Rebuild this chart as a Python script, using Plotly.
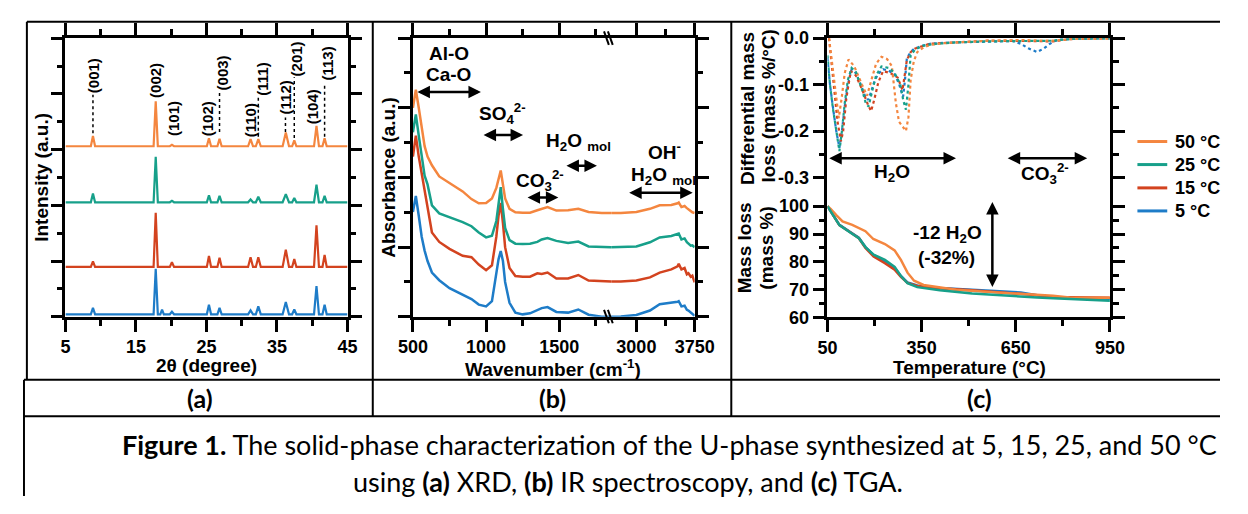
import plotly.graph_objects as go

# The page body keeps the browser's default 8 px margin, so the figure is sized to fit the
# 1248x514 window inside it; reference pixel positions are converted with this offset.
WIN_W, WIN_H, OFF = 1248, 514, 8
W, H = WIN_W - 2 * OFF, WIN_H - 2 * OFF
def X(px): return (px - OFF) / W
def Y(py): return 1 - (py - OFF) / H

ORANGE, TEAL, RED, BLUE = "#F4863F", "#17A08A", "#D3431F", "#1E7CC8"
FONT = "Liberation Sans, Arial, sans-serif"
CAPFONT = "Lato, Open Sans, sans-serif"

# ---------------- (a) XRD data ----------------
xrd_peaks = [8.9, 17.8, 18.7, 20.1, 25.35, 26.85, 31.25, 32.35, 36.25, 37.45, 40.6, 41.75]
xrd_halfw = [0.3, 0.3, 0.25, 0.3, 0.3, 0.3, 0.35, 0.35, 0.45, 0.3, 0.35, 0.3]
xrd_base = {"5": 0.09, "15": 1.79, "25": 4.11, "50": 6.12}
xrd_5C  = [0.32, 1.72, 0.26, 0.18, 0.43, 0.32, 0.23, 0.38, 0.53, 0.26, 1.10, 0.43]
xrd_15C = [1.99, 3.73, 1.81, 1.96, 2.18, 2.12, 2.14, 2.14, 2.41, 2.07, 3.28, 2.22]
xrd_25C = [4.42, 5.74, 4.13, 4.16, 4.36, 4.34, 4.21, 4.31, 4.40, 4.26, 4.74, 4.34]
xrd_50C = [6.49, 7.73, 6.14, 6.17, 6.41, 6.39, 6.38, 6.38, 6.61, 6.33, 6.85, 6.41]

xrd_labels = ["(001)", "(002)", "(101)", "(102)", "(003)", "(110)", "(111)", "(112)", "(201)", "(104)", "(113)"]
xrd_label_x = [8.9, 17.76, 20.3, 25.25, 27.2, 31.26, 33.0, 36.2, 37.83, 40.14, 42.2]
xrd_label_y = [8.67, 8.48, 7.11, 7.10, 8.77, 7.04, 8.54, 7.89, 9.27, 7.53, 9.08]
xrd_guide_x = [8.9, 26.85, 32.35, 36.2, 37.45, 41.75]
xrd_guide_y0 = [6.59, 6.63, 6.46, 6.63, 6.42, 6.46]
xrd_guide_y1 = [7.97, 8.08, 7.91, 7.15, 8.60, 8.39]

# ---------------- (b) IR data ----------------
ir_wn = [500, 520, 540, 560, 580, 600, 630, 680, 750, 840, 900, 950, 1000, 1040, 1070, 1085,
         1100, 1115, 1130, 1160, 1200, 1250, 1300, 1350, 1380, 1420, 1480, 1560, 1630, 1700,
         1790, 1854, 2675, 2800, 3000, 3175, 3300, 3450, 3530, 3545, 3580, 3620, 3650, 3670,
         3700, 3720, 3750]
ir_50C = [6.00, 6.52, 6.00, 5.40, 4.90, 4.60, 4.35, 4.03, 3.84, 3.60, 3.38, 3.26, 3.27, 3.40, 3.70, 3.95,
          4.20, 3.80, 3.40, 3.10, 3.00, 2.99, 2.99, 3.06, 3.10, 3.15, 3.05, 3.06, 3.10, 3.01,
          2.98, 2.98, 2.98, 2.98, 3.01, 3.10, 3.20, 3.21, 3.26, 3.28, 3.15, 3.18, 3.12, 3.08,
          3.02, 3.00, 2.98]
ir_25C = [5.30, 5.81, 5.20, 4.55, 4.05, 3.80, 3.20, 2.97, 2.86, 2.72, 2.60, 2.42, 2.28, 2.33, 2.75, 3.20,
          3.72, 3.10, 2.55, 2.20, 2.10, 2.09, 2.10, 2.15, 2.22, 2.26, 2.18, 2.12, 2.16, 2.02,
          2.00, 2.00, 2.00, 2.00, 2.02, 2.14, 2.28, 2.32, 2.37, 2.39, 2.22, 2.25, 2.14, 2.10,
          2.04, 2.05, 2.00]
ir_15C = [4.60, 5.20, 4.60, 4.10, 3.60, 3.10, 2.42, 2.15, 1.95, 1.75, 1.71, 1.50, 1.34, 1.48, 2.30, 2.90,
          3.27, 2.70, 2.00, 1.40, 1.17, 1.15, 1.15, 1.25, 1.23, 1.27, 1.10, 1.10, 1.20, 1.04,
          1.01, 1.01, 1.01, 1.01, 1.04, 1.13, 1.27, 1.36, 1.45, 1.52, 1.36, 1.40, 1.22, 1.25,
          1.15, 1.18, 0.99]
ir_5C = [3.01, 3.47, 2.90, 2.30, 1.90, 1.60, 1.27, 1.05, 0.82, 0.62, 0.51, 0.35, 0.30, 0.45, 1.25, 1.65,
         1.89, 1.60, 1.00, 0.40, 0.12, 0.07, 0.10, 0.20, 0.25, 0.28, 0.14, 0.12, 0.21, 0.06,
         0.00, 0.00, 0.00, 0.01, 0.05, 0.18, 0.36, 0.40, 0.43, 0.45, 0.30, 0.32, 0.20, 0.18,
         0.12, 0.10, 0.03]
IR_BREAK_LO, IR_BREAK_HI = 1854, 2675

# ---------------- (c) TGA data ----------------
dtg_50C_T = [55, 65, 75, 86, 95, 105, 117, 135, 160, 176, 190, 205, 222, 240, 255, 268, 278, 290, 300,
             308, 315, 325, 336, 356, 377, 420, 460, 520, 563, 620, 666, 720, 769, 800, 821, 870, 950]
dtg_50C = [0.0, -0.06, -0.12, -0.172, -0.13, -0.075, -0.046, -0.06, -0.10, -0.124, -0.09, -0.055,
           -0.04, -0.045, -0.06, -0.14, -0.18, -0.19, -0.20, -0.17, -0.09, -0.05, -0.03, -0.02,
           -0.0145, -0.011, -0.009, -0.007, -0.0055, -0.0045, -0.004, -0.005, -0.0055, -0.004,
           -0.002, -0.001, -0.001]
dtg_25C_T = [50, 58, 67, 78, 88, 96, 105, 115, 127, 140, 160, 172, 181, 192, 205, 222, 245, 264, 282,
             292, 300, 308, 315, 330, 356, 400, 460, 560, 666, 769, 800, 850, 950]
dtg_25C = [-0.037, -0.10, -0.15, -0.205, -0.243, -0.20, -0.14, -0.09, -0.064, -0.072, -0.11, -0.14,
           -0.147, -0.115, -0.08, -0.061, -0.064, -0.075, -0.10, -0.135, -0.154, -0.10, -0.037,
           -0.024, -0.016, -0.012, -0.009, -0.007, -0.006, -0.0055, -0.003, -0.001, -0.0005]
dtg_15C_T = [55, 62, 72, 82, 93, 100, 110, 124, 140, 160, 180, 189, 200, 212, 227, 250, 274, 283, 289,
             296, 303, 315, 330, 377, 460, 563, 666, 769, 821, 870, 950]
dtg_15C = [0.0, -0.05, -0.11, -0.18, -0.222, -0.20, -0.13, -0.071, -0.08, -0.11, -0.145, -0.157,
           -0.13, -0.095, -0.071, -0.075, -0.085, -0.10, -0.112, -0.08, -0.047, -0.03, -0.022,
           -0.012, -0.009, -0.0055, -0.006, -0.007, -0.002, -0.001, -0.0005]
dtg_5C_T = [50, 58, 67, 78, 88, 96, 105, 115, 127, 140, 155, 170, 179, 188, 197, 210, 227, 245, 264,
            278, 284, 291, 297, 303, 315, 326, 350, 377, 420, 460, 550, 614, 640, 666, 690, 718,
            740, 759, 775, 790, 850, 950]
dtg_5C = [-0.043, -0.10, -0.147, -0.20, -0.236, -0.20, -0.147, -0.10, -0.067, -0.075, -0.098,
          -0.125, -0.133, -0.118, -0.098, -0.078, -0.067, -0.07, -0.078, -0.098, -0.112, -0.126,
          -0.09, -0.043, -0.03, -0.023, -0.017, -0.012, -0.01, -0.009, -0.007, -0.0055, -0.006,
          -0.012, -0.022, -0.03, -0.022, -0.012, -0.006, -0.003, -0.001, -0.0005]

tg_50C_T = [50, 60, 78, 98, 129, 171, 196, 233, 264, 284, 305, 326, 356, 408, 460, 563, 666, 769, 821, 950]
tg_50C = [100, 99.0, 96.8, 94.5, 93.3, 91.0, 88.2, 86.4, 84.1, 80.7, 76.1, 73.2, 71.7, 70.9, 70.0,
          69.2, 68.6, 67.8, 67.2, 67.1]
tg_T = [50, 68, 88, 119, 150, 171, 197, 233, 264, 284, 305, 336, 408, 511, 614, 666, 718, 769, 950]
tg_25C = [100, 96.8, 93.2, 90.8, 88.5, 85.3, 82.6, 80.7, 78.2, 74.9, 72.3, 70.9, 69.8, 68.6, 67.8,
          67.5, 67.2, 66.9, 66.0]
tg_15C = [100, 96.8, 93.2, 90.9, 88.5, 85.0, 81.9, 79.5, 77.2, 74.6, 72.4, 71.3, 70.5, 69.8, 69.0,
          68.6, 68.0, 67.4, 67.1]
tg_5C = [100, 96.8, 93.3, 91.0, 88.7, 85.3, 82.4, 80.1, 77.8, 74.9, 72.6, 71.5, 70.6, 70.0, 69.4,
         69.0, 68.0, 67.2, 66.7]

series_names = ["50 °C", "25 °C", "15 °C", "5 °C"]
series_colors = [ORANGE, TEAL, RED, BLUE]

fig = go.Figure()

# ---- XRD traces
def xrd_line(base, tops):
    xs, ys = [5], [base]
    for p, w, t in zip(xrd_peaks, xrd_halfw, tops):
        xs += [p - w, p, p + w]
        ys += [base, t, base]
    xs.append(45); ys.append(base)
    return xs, ys

for key, tops, col in [("5", xrd_5C, BLUE), ("15", xrd_15C, RED), ("25", xrd_25C, TEAL), ("50", xrd_50C, ORANGE)]:
    xs, ys = xrd_line(xrd_base[key], tops)
    fig.add_trace(go.Scatter(x=xs, y=ys, mode="lines", line=dict(color=col, width=2.2),
                             xaxis="x", yaxis="y", showlegend=False))

# ---- IR traces (split at the axis break)
lo = [i for i, w in enumerate(ir_wn) if w <= IR_BREAK_LO]
hi = [i for i, w in enumerate(ir_wn) if w >= IR_BREAK_HI]
for vals, col in [(ir_5C, BLUE), (ir_15C, RED), (ir_25C, TEAL), (ir_50C, ORANGE)]:
    fig.add_trace(go.Scatter(x=[ir_wn[i] for i in lo], y=[vals[i] for i in lo], mode="lines",
                             line=dict(color=col, width=2.5), xaxis="x2", yaxis="y2", showlegend=False))
    fig.add_trace(go.Scatter(x=[ir_wn[i] for i in hi], y=[vals[i] for i in hi], mode="lines",
                             line=dict(color=col, width=2.5), xaxis="x3", yaxis="y3", showlegend=False))

# ---- DTG (dotted)
for T, v, col in [(dtg_5C_T, dtg_5C, BLUE), (dtg_15C_T, dtg_15C, RED),
                  (dtg_50C_T, dtg_50C, ORANGE), (dtg_25C_T, dtg_25C, TEAL)]:
    fig.add_trace(go.Scatter(x=T, y=v, mode="lines", line=dict(color=col, width=2.2, dash="dot"),
                             xaxis="x4", yaxis="y4", showlegend=False))

# ---- TG (solid)
for T, v, col, name in [(tg_T, tg_5C, BLUE, series_names[3]),
                        (tg_T, tg_15C, RED, series_names[2]),
                        (tg_50C_T, tg_50C, ORANGE, series_names[0]),
                        (tg_T, tg_25C, TEAL, series_names[1])]:
    fig.add_trace(go.Scatter(x=T, y=v, mode="lines", line=dict(color=col, width=2.5),
                             xaxis="x5", yaxis="y5", name=name, showlegend=False))

# ---------------- axes ----------------
TF = dict(family=FONT, size=18, color="black", weight="bold")
def ax(**kw):
    base = dict(showgrid=False, zeroline=False, showline=True, linewidth=2.5, linecolor="black",
                ticks="outside", ticklen=12, tickwidth=2.5, tickcolor="black", tickfont=TF)
    minor_vals = kw.pop("minor_vals", None)
    if minor_vals is not None:
        base["minor"] = dict(tickvals=minor_vals, ticks="outside", ticklen=6, tickwidth=2.5, tickcolor="black")
    base.update(kw)
    return base

ya_dom = [Y(319.3), Y(29)]
fig.update_layout(
    xaxis=ax(domain=[X(51.7), X(342)], range=[5, 45], anchor="y", tickvals=[5, 15, 25, 35, 45],
             minor_vals=[10, 20, 30, 40], mirror="ticks"),
    yaxis=ax(domain=ya_dom, range=[0, 10], anchor="x", tickvals=[0, 2, 4, 6, 8, 10],
             minor_vals=[1, 3, 5, 7, 9], showticklabels=False, mirror="ticks"),
    xaxis2=ax(domain=[X(409.3), X(613.3)], range=[500, IR_BREAK_LO], anchor="y2",
              tickvals=[500, 1000, 1500], minor_vals=[750, 1250, 1750], mirror="ticks"),
    yaxis2=ax(domain=ya_dom, range=[0, 8], anchor="x2", side="left", tickvals=[0, 2, 4, 6, 8],
              minor_vals=[1, 3, 5, 7], showticklabels=False),
    xaxis3=ax(domain=[X(613.3), X(699.3)], range=[IR_BREAK_HI, 3750], anchor="y3",
              tickvals=[3000, 3750], minor_vals=[3375], mirror="ticks"),
    yaxis3=ax(domain=ya_dom, range=[0, 8], anchor="x3", side="right", tickvals=[0, 2, 4, 6, 8],
              minor_vals=[1, 3, 5, 7], showticklabels=False),
    xaxis4=ax(domain=[X(836), X(1126.7)], range=[50, 950], anchor="y4", side="top",
              tickvals=[50, 350, 650, 950], minor_vals=[200, 500, 800], showticklabels=False),
    yaxis4=ax(domain=[Y(188.7), Y(29)], range=[-0.33, 0], anchor="x4",
              tickvals=[0, -0.1, -0.2, -0.3], ticktext=["0.0", "-0.1", "-0.2", "-0.3"],
              minor_vals=[-0.05, -0.15, -0.25], mirror="ticks"),
    xaxis5=ax(domain=[X(836), X(1126.7)], range=[50, 950], anchor="y5", side="bottom",
              tickvals=[50, 350, 650, 950], minor_vals=[200, 500, 800]),
    yaxis5=ax(domain=[Y(320), Y(188.7)], range=[60, 105.3], anchor="x5",
              tickvals=[60, 70, 80, 90, 100], minor_vals=[65, 75, 85, 95], mirror="ticks"),
)

# ---------------- annotations ----------------
ann = []
def txt(px, py, s, size=19, angle=0, family=FONT, bold=True, xanchor="center"):
    ann.append(dict(x=X(px), y=Y(py), xref="paper", yref="paper", text=(f"<b>{s}</b>" if bold else s),
                    showarrow=False, xanchor=xanchor, yanchor="middle", textangle=angle,
                    font=dict(family=family, size=size, color="black")))

def dbl_arrow(x0, y0, x1, y1):
    ann.append(dict(x=X(x1), y=Y(y1), xref="paper", yref="paper", ax=x0 - x1, ay=y0 - y1,
                    axref="pixel", ayref="pixel", text="", showarrow=True, arrowhead=2,
                    startarrowhead=2, arrowside="end+start", arrowsize=1, startarrowsize=1,
                    arrowwidth=2.5, arrowcolor="black", standoff=0, startstandoff=0))

# axis titles
txt(27, 174, "Intensity (a.u.)", angle=-90)
txt(197, 370, "2θ (degree)")
txt(384, 174, "Absorbance (a.u.)", angle=-90)
txt(553, 373, "Wavenumber (cm<sup>-1</sup>)")
txt(753, 102, "Differential mass", angle=-90)
txt(775, 100, "loss (mass %/°C)", angle=-90)
txt(751, 247, "Mass loss", angle=-90)
txt(773, 248, "(mass %)", angle=-90)
txt(982, 372, "Temperature (°C)")

# XRD peak labels
for s, lx, ly in zip(xrd_labels, xrd_label_x, xrd_label_y):
    ann.append(dict(x=lx, y=ly, xref="x", yref="y", text=f"<b>{s}</b>", showarrow=False,
                    textangle=-90, xanchor="center", yanchor="middle",
                    font=dict(family=FONT, size=15, color="black")))

# IR band annotations
txt(446, 45, "Al-O"); txt(446, 67, "Ca-O"); dbl_arrow(414.3, 85, 479.3, 85)
txt(502, 108, "SO<sub>4</sub><sup>2-</sup>"); dbl_arrow(481.7, 130, 522.7, 130)
txt(580, 137, "H<sub>2</sub>O <sub>mol</sub>"); dbl_arrow(566.7, 162, 598.7, 162)
txt(540, 177, "CO<sub>3</sub><sup>2-</sup>"); dbl_arrow(526.7, 195, 559, 195)
txt(668, 147, "OH<sup>-</sup>"); txt(667, 173, "H<sub>2</sub>O <sub>mol</sub>"); dbl_arrow(632.3, 190, 697.3, 190)

# TGA annotations
dbl_arrow(840, 154, 968.3, 154); txt(902, 170, "H<sub>2</sub>O")
dbl_arrow(1022.3, 154, 1103.3, 154); txt(1060, 170, "CO<sub>3</sub><sup>2-</sup>")
dbl_arrow(1005.7, 201.7, 1005.7, 288.3)
txt(960, 233, "-12 H<sub>2</sub>O"); txt(958, 258, "(-32%)")

# legend (drawn by hand to match entry spacing)
shapes = []
legend_y = [136.7, 160.7, 185, 209]
for name, col, ly in zip(series_names, series_colors, legend_y):
    shapes.append(dict(type="line", xref="paper", yref="paper", x0=X(1155), x1=X(1185.7),
                       y0=Y(ly), y1=Y(ly), line=dict(color=col, width=3)))
    txt(1191.7, ly, name, size=18, xanchor="left")

# panel labels and caption
txt(190, 404, "(a)", size=25, family=CAPFONT)
txt(553, 404, "(b)", size=25, family=CAPFONT)
txt(992, 404, "(c)", size=25, family=CAPFONT)
txt(673, 452, "<b>Figure 1.</b> The solid-phase characterization of the U-phase synthesized at 5, 15, 25, and 50 °C",
    size=27, family=CAPFONT, bold=False)
txt(631, 491, "using <b>(a)</b> XRD, <b>(b)</b> IR spectroscopy, and <b>(c)</b> TGA.",
    size=27, family=CAPFONT, bold=False)

# ---------------- shapes ----------------
def pline(x0, y0, x1, y1, w=2):
    shapes.append(dict(type="line", xref="paper", yref="paper", x0=X(x0), y0=Y(y0), x1=X(x1), y1=Y(y1),
                       line=dict(color="black", width=w)))
# table borders
pline(12, 12, 1240, 12); pline(12, 12, 12, 385)
pline(368, 12, 368, 423); pline(737, 12, 737, 423)
pline(9, 385, 1240, 385); pline(9, 423, 1240, 423)
pline(9, 385, 9, 506)
# axis break marks
for yb in (22, 312):
    pline(606, yb, 611, yb + 14, w=2)
    pline(610, yb, 615, yb + 14, w=2)
# XRD guide lines
for gx, g0, g1 in zip(xrd_guide_x, xrd_guide_y0, xrd_guide_y1):
    shapes.append(dict(type="line", xref="x", yref="y", x0=gx, x1=gx, y0=g0, y1=g1,
                       line=dict(color="black", width=1.5, dash="dot")))

fig.update_layout(
    width=W, height=H, margin=dict(l=0, r=0, t=0, b=0),
    paper_bgcolor="white", plot_bgcolor="white",
    annotations=ann, shapes=shapes, showlegend=False,
)

fig.write_html("out.html", config={"displayModeBar": False})
